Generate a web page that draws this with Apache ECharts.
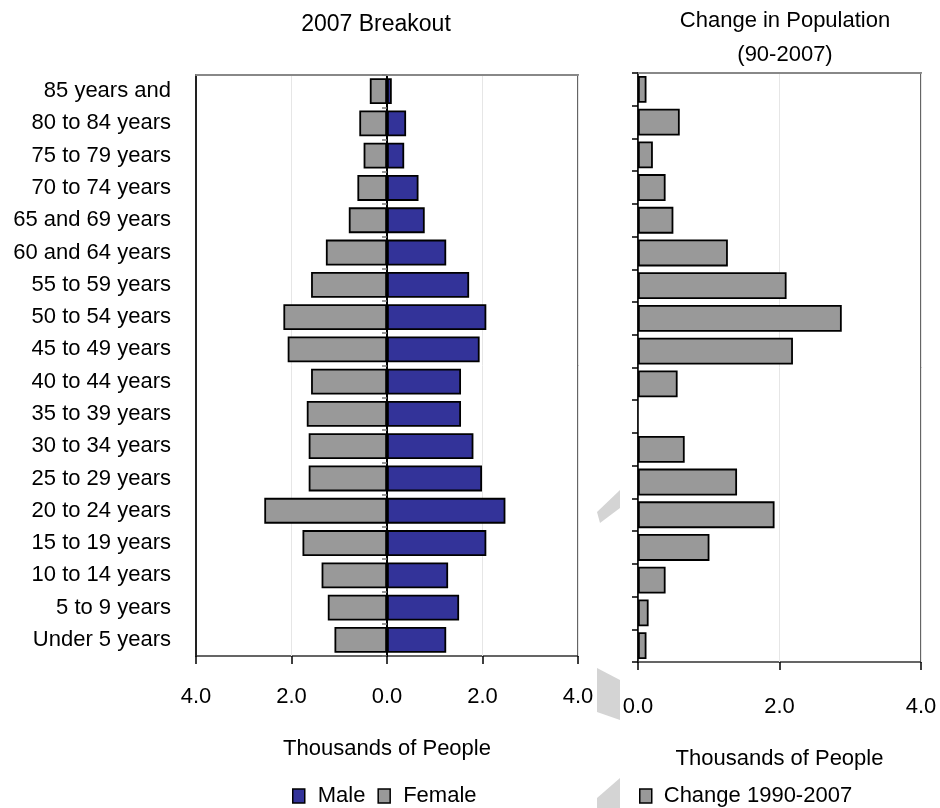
<!DOCTYPE html>
<html>
<head>
<meta charset="utf-8">
<script src="https://cdn.jsdelivr.net/npm/echarts@6/dist/echarts.min.js"></script>
<style>
html,body{margin:0;padding:0;background:#fff;}
#chart{width:940px;height:808px;}
</style>
</head>
<body>
<div id="chart"></div>
<script>
// Categories listed bottom (first) to top (last)
var categories = ['Under 5 years','5 to 9 years','10 to 14 years','15 to 19 years','20 to 24 years','25 to 29 years','30 to 34 years','35 to 39 years','40 to 44 years','45 to 49 years','50 to 54 years','55 to 59 years','60 and 64 years','65 and 69 years','70 to 74 years','75 to 79 years','80 to 84 years','85 years and'];
var maleValues   = [1.24,1.51,1.28,2.08,2.48,1.99,1.81,1.55,1.55,1.94,2.08,1.72,1.24,0.79,0.66,0.36,0.40,0.10];
var femaleValues = [1.10,1.24,1.37,1.77,2.57,1.64,1.64,1.68,1.59,2.08,2.17,1.59,1.28,0.80,0.62,0.49,0.58,0.36];
var changeValues = [0.12,0.15,0.39,1.01,1.93,1.40,0.66,null,0.56,2.19,2.88,2.10,1.27,0.50,0.39,0.21,0.59,0.12];

var FONT = '"Liberation Sans", Arial, sans-serif';
var FS = 22;
var chart = echarts.init(document.getElementById('chart'), null, {renderer:'canvas'});

var option = {
  backgroundColor:'#fff',
  animation:false,
  textStyle:{fontFamily:FONT, color:'#000'},
  title:[
    {text:'2007 Breakout', left:371, top:8, textAlign:'center',
     textStyle:{fontFamily:FONT,fontSize:23,fontWeight:'normal',color:'#000'}},
    {text:'Change in Population\n(90-2007)', left:780, top:-1, textAlign:'center',
     textStyle:{fontFamily:FONT,fontSize:22,fontWeight:'normal',color:'#000',lineHeight:34}}
  ],
  legend:[
    {data:['Male','Female'], left:287, top:780, itemWidth:12, itemHeight:14, itemGap:12,
     icon:'rect', textStyle:{fontFamily:FONT,fontSize:FS,color:'#000',padding:[0,0,0,8]},
     itemStyle:{borderColor:'#000',borderWidth:1.5}},
    {data:['Change 1990-2007'], left:634, top:780, itemWidth:12, itemHeight:14,
     icon:'rect', textStyle:{fontFamily:FONT,fontSize:FS,color:'#000',padding:[0,0,0,7]},
     itemStyle:{borderColor:'#000',borderWidth:1.5}}
  ],
  grid:[
    {left:196, right:362, top:75, bottom:152, show:true, borderColor:'#333', borderWidth:1.5},
    {left:638, right:19, top:73, bottom:146, show:true, borderColor:'#333', borderWidth:1.5}
  ],
  xAxis:[
    {gridIndex:0, type:'value', min:-4, max:4, interval:2, position:'bottom',
     axisLine:{onZero:false, lineStyle:{color:'#000',width:1.5}},
     axisTick:{show:true,length:8,lineStyle:{color:'#000',width:1.5}},
     axisLabel:{margin:30,fontFamily:FONT,fontSize:FS,color:'#000',
       formatter:function(v){return Math.abs(v).toFixed(1);}},
     splitLine:{show:true,lineStyle:{color:'#e6e6e6',width:1}},
     name:'Thousands of People', nameLocation:'middle', nameGap:82,
     nameTextStyle:{fontFamily:FONT,fontSize:FS,color:'#000'}},
    {gridIndex:0, type:'value', min:-4, max:4, interval:2, position:'top',
     axisLine:{show:true,onZero:false,lineStyle:{color:'#888',width:2}},
     axisTick:{show:false}, axisLabel:{show:false}, splitLine:{show:false}},
    {gridIndex:1, type:'value', min:0, max:4, interval:2, position:'bottom',
     axisLine:{onZero:false, lineStyle:{color:'#000',width:1.5}},
     axisTick:{show:true,length:8,lineStyle:{color:'#000',width:1.5}},
     axisLabel:{margin:34,fontFamily:FONT,fontSize:FS,color:'#000',
       formatter:function(v){return v.toFixed(1);}},
     splitLine:{show:true,lineStyle:{color:'#e6e6e6',width:1}},
     name:'Thousands of People', nameLocation:'middle', nameGap:86,
     nameTextStyle:{fontFamily:FONT,fontSize:FS,color:'#000'}},
    {gridIndex:1, type:'value', min:0, max:4, interval:2, position:'top',
     axisLine:{show:true,onZero:false,lineStyle:{color:'#888',width:2}},
     axisTick:{show:false}, axisLabel:{show:false}, splitLine:{show:false}}
  ],
  yAxis:[
    {gridIndex:0, type:'category', data:categories, position:'left',
     axisLine:{show:true,onZero:false,lineStyle:{color:'#222',width:2}},
     axisTick:{show:false},
     axisLabel:{margin:25,fontFamily:FONT,fontSize:FS,color:'#000'}},
    {gridIndex:0, type:'category', data:categories, position:'right',
     axisLine:{show:true,onZero:true,lineStyle:{color:'#000',width:2}},
     axisTick:{show:true,inside:true,length:5,lineStyle:{color:'#777',width:1.5}},
     axisLabel:{show:false}},
    {gridIndex:1, type:'category', data:categories, position:'left',
     axisLine:{show:true,onZero:false,lineStyle:{color:'#000',width:1.5}},
     axisTick:{show:true,length:6,lineStyle:{color:'#000',width:1.5}},
     axisLabel:{show:false}}
  ],
  series:[
    {name:'Male', type:'bar', xAxisIndex:0, yAxisIndex:0, data:maleValues,
     barWidth:'80%', barGap:'-100%',
     itemStyle:{color:'#333399', borderColor:'#000', borderWidth:1.8}},
    {name:'Female', type:'bar', xAxisIndex:0, yAxisIndex:0,
     data:femaleValues.map(function(v){return -v;}),
     barWidth:'80%', barGap:'-100%',
     itemStyle:{color:'#999999', borderColor:'#000', borderWidth:1.8}},
    {name:'Change 1990-2007', type:'bar', xAxisIndex:2, yAxisIndex:2, data:changeValues,
     barWidth:'82%',
     itemStyle:{color:'#999999', borderColor:'#000', borderWidth:1.8}}
  ],
  graphic:[
    {type:'polygon', shape:{points:[[597,512],[620,490],[620,508],[600,523]]}, style:{fill:'#d4d4d4'}, silent:true},
    {type:'polygon', shape:{points:[[597,668],[620,680],[620,720],[597,712]]}, style:{fill:'#d4d4d4'}, silent:true},
    {type:'polygon', shape:{points:[[620,778],[597,798],[597,808],[620,808]]}, style:{fill:'#d4d4d4'}, silent:true}
  ]
};
chart.setOption(option);
</script>
</body>
</html>
